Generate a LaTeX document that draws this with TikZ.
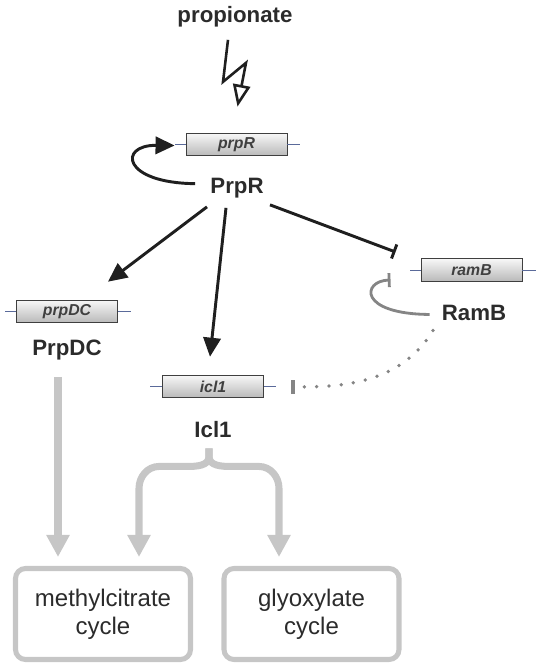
\documentclass[tikz,border=0pt]{standalone}
\usepackage{fontspec}
\setmainfont{Liberation Sans}
\usepackage{tikz}
\usetikzlibrary{calc,arrows.meta}
\definecolor{ink}{HTML}{1F1F1F}
\definecolor{labtext}{HTML}{2B2B2B}
\definecolor{flowgray}{HTML}{C6C6C6}
\definecolor{repgray}{HTML}{858585}
\definecolor{genedraw}{HTML}{3F3F3F}
\definecolor{genewire}{HTML}{5A6A9A}
\tikzset{
  gene/.style={draw=genedraw, line width=0.8pt, top color=gray!6, bottom color=gray!55,
    minimum width=3.03cm, minimum height=0.68cm, inner sep=0pt,
    font=\fontsize{13.5}{16}\selectfont\bfseries\itshape, text=labtext!90},
  wire/.style={draw=genewire, line width=0.8pt},
  prot/.style={font=\fontsize{19}{22}\selectfont\bfseries, text=labtext, inner sep=0pt, anchor=base},
  cyclebox/.style={draw=flowgray, line width=4.3pt, rounded corners=0.3cm,
    minimum width=5.25cm, minimum height=2.73cm, align=center, text=labtext,
    font=\fontsize{20.5}{24}\selectfont},
  act/.style={draw=ink, line width=2.5pt, -{Triangle[length=0.57cm,width=0.52cm]}},
  inh/.style={draw=ink, line width=2.5pt, -{Bar[width=0.45cm]}},
  repline/.style={draw=repgray, line width=2.4pt, -{Bar[width=0.42cm]}},
  flow/.style={draw=flowgray, line width=6pt, line join=round, -{Triangle[length=0.66cm,width=0.66cm]}},
  bolt/.style={draw=ink, line width=2.2pt, line join=miter, -{Triangle[open,length=0.66cm,width=0.52cm]}},
}

\begin{document}
\begin{tikzpicture}[x=0.03cm,y=-0.03cm]
  \useasboundingbox (0,0) rectangle (542,672);

  % genes
  \node[gene] (prpRgene) at (236.5,144.5) {prpR};
  \node[gene] (prpDCgene) at (67,311.5) {prpDC};
  \node[gene] (iclgene) at (213,386.5) {icl1};
  \node[gene] (ramBgene) at (471.5,270) {ramB};
  \draw[wire] (prpRgene.west) -- ++(-11,0) (prpRgene.east) -- ++(13,0);
  \draw[wire] (prpDCgene.west) -- ++(-11,0) (prpDCgene.east) -- ++(13,0);
  \draw[wire] (iclgene.west) -- ++(-12,0) (iclgene.east) -- ++(12,0);
  \draw[wire] (ramBgene.west) -- ++(-11,0) (ramBgene.east) -- ++(14,0);

  % proteins and signal
  \node[prot] (propionate) at (235,23) {propionate};
  \node[prot] (PrpR) at (237,193) {PrpR};
  \node[prot] (PrpDC) at (67,355) {PrpDC};
  \node[prot] (Icl) at (213,437) {Icl1};
  \node[prot] (RamB) at (474,320) {RamB};

  % pathways
  \node[cyclebox] (mcc) at (103,614) {methylcitrate\\cycle};
  \node[cyclebox] (gc) at (311.5,614) {glyoxylate\\cycle};

  % propionate signal
  \draw[bolt] ([shift={(-7,12)}]propionate.south) -- ++(-5,42) -- ++(23,-19)
    -- ([shift={(1,-26)}]prpRgene.north);

  % regulation by PrpR
  \draw[act] ([shift={(-15,-4)}]PrpR.west) .. controls (122,183) and (118,145)
    .. ([shift={(-11,1)}]prpRgene.west);
  \draw[act] ([shift={(-30,9)}]PrpR.south) -- ([shift={(41,-18)}]prpDCgene.north);
  \draw[act] ([shift={(-11,10)}]PrpR.south) -- ([shift={(-3,-18)}]iclgene.north);
  \draw[inh] ([shift={(33,7)}]PrpR.south) -- ([shift={(-25,-18)}]ramBgene.west);

  % repression by RamB
  \draw[repline] ([shift={(-12,2)}]RamB.west) .. controls (358,314) and (362,281)
    .. ([shift={(-30,10)}]ramBgene.west);
  \draw[repline, line width=3.2pt, line cap=round, dash pattern=on 0pt off 10.5pt]
    ([shift={(-41,10)}]RamB.south) .. controls (400,385) and (340,387)
    .. ([shift={(27,0.5)}]iclgene.east);

  % flux into cycles
  \draw[flow] ([shift={(-9,17)}]PrpDC.south) -- ([shift={(-45,-9)}]mcc.north);
  \coordinate (brace) at ([shift={(-4,11)}]Icl.south);
  \draw[flow] (brace) -- ++(0,8) to[out=270,in=0] ++(-22,10) -- ++(-28,0)
    to[out=180,in=90] ++(-20,22) -- ([shift={(36,-9)}]mcc.north);
  \draw[flow] (brace) -- ++(0,8) to[out=270,in=180] ++(22,10) -- ++(28,0)
    to[out=0,in=90] ++(20,22) -- ([shift={(-32.5,-9)}]gc.north);
\end{tikzpicture}
\end{document}
